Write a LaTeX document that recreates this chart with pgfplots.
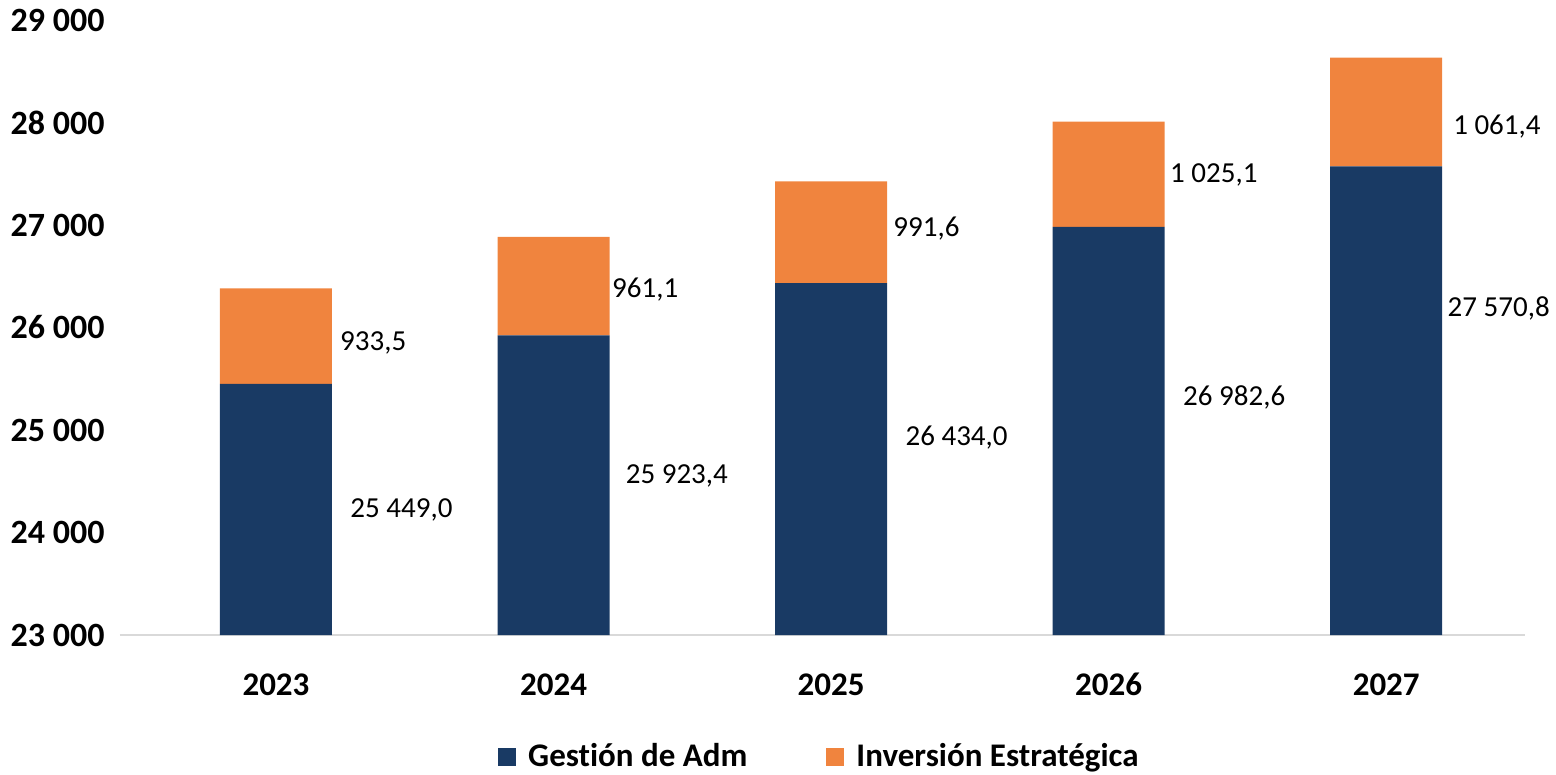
\documentclass[border=0pt]{standalone}
\usepackage{pgfplots}
\pgfplotsset{compat=1.18}
\usepackage{fontspec}
\setmainfont{Carlito}[Ligatures=NoCommon]
\definecolor{azul}{RGB}{25,58,100}
\definecolor{naranja}{RGB}{240,132,62}
\definecolor{eje}{RGB}{217,217,217}

\begin{document}
\begin{tikzpicture}[etq/.style={anchor=west, inner sep=0pt, font=\fontsize{14.5}{14.5}\selectfont}]
\begin{axis}[
    scale only axis,
    width=702.5pt, height=307.5pt,
    ybar stacked, bar width=56pt,
    xmin=-0.562, xmax=4.5,
    ymin=23000, ymax=29000,
    xtick={0,1,2,3,4},
    xticklabels={2023,2024,2025,2026,2027},
    ytick={23000,24000,25000,26000,27000,28000,29000},
    yticklabels={23 000,24 000,25 000,26 000,27 000,28 000,29 000},
    scaled y ticks=false,
    clip mode=individual,
    axis x line*=bottom, axis y line*=left,
    x axis line style={draw=eje, line width=1pt},
    y axis line style={draw=none},
    tick style={draw=none},
    major tick length=0pt,
    yticklabel style={font=\fontsize{17}{17}\selectfont\bfseries, anchor=east, inner sep=0pt, xshift=-7.5pt},
    xticklabel style={font=\fontsize{16.5}{16.5}\selectfont\bfseries, anchor=north, inner sep=0pt, yshift=-19pt},
    legend style={at={(0.4985,-0.198)}, anchor=center, draw=none, legend columns=2,
        font=\fontsize{16.5}{16.5}\selectfont\bfseries,
        /tikz/every even column/.append style={column sep=37.5pt}},
    legend image code/.code={\fill[#1] (0pt,-4.5pt) rectangle (9pt,4.5pt); \path (13pt,0pt);},
]
\addplot[fill=azul, draw=none] coordinates {(0,25449.0) (1,25923.4) (2,26434.0) (3,26982.6) (4,27570.8)};
\addplot[fill=naranja, draw=none] coordinates {(0,933.5) (1,961.1) (2,991.6) (3,1025.1) (4,1061.4)};
\legend{Gestión de Adm, Inversión Estratégica}

% etiquetas de datos
\node[etq] at (axis cs:0.267,24220) {25 449,0};
\node[etq] at (axis cs:1.259,24550) {25 923,4};
\node[etq] at (axis cs:2.267,24930) {26 434,0};
\node[etq] at (axis cs:3.267,25320) {26 982,6};
\node[etq] at (axis cs:4.22,26190) {27 570,8};
\node[etq] at (axis cs:0.23,25850) {933,5};
\node[etq] at (axis cs:1.21,26370) {961,1};
\node[etq] at (axis cs:2.223,26970) {991,6};
\node[etq] at (axis cs:3.22,27490) {1 025,1};
\node[etq] at (axis cs:4.24,27960) {1 061,4};
\end{axis}
\pgfresetboundingbox
\path (-60pt,-70pt) rectangle (718pt,317.5pt);
\end{tikzpicture}
\end{document}
